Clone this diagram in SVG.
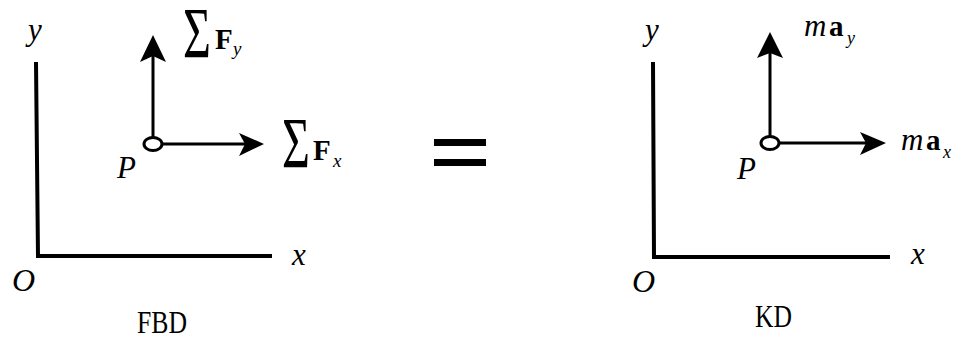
<svg xmlns="http://www.w3.org/2000/svg" width="960" height="339" viewBox="0 0 960 339">
<defs>
<style>
.ax{stroke:#000;stroke-width:4;fill:none}
.sh{stroke:#000;stroke-width:3;fill:none}
.pt{stroke:#000;stroke-width:3;fill:#fff}
.hd{fill:#000;stroke:none}
.t{font-family:'Liberation Serif','Times New Roman',Times,serif;fill:#000}
.i{font-style:italic}
.b{font-weight:bold}
</style>
</defs>
<g id="connectors">
<path class="ax" d="M36,62 L38,257 M36,256 L272,256"/>
<path class="ax" d="M653,62 L654,258 M652,257 L890,257"/>
<path class="sh" d="M153,137 L153,56 M162,144 L245,144"/>
<path class="hd" d="M153,35 L166,62 L153,56 L140,62 Z"/>
<path class="hd" d="M264,144 L239,133 L245,144 L239,156 Z"/>
<path class="sh" d="M770,136 L770,53 M779,143 L866,143"/>
<path class="hd" d="M770,32 L783,58 L770,53 L757,58 Z"/>
<path class="hd" d="M886,143 L860,132 L866,143 L860,155 Z"/>
</g>
<g id="fbd">
<text class="t i" x="28" y="40" font-size="31">y</text>
<text class="t i" x="292" y="265" font-size="31">x</text>
<text class="t i" x="12" y="291" font-size="32">O</text>
<text class="t" x="137" y="333" font-size="31" textLength="50" lengthAdjust="spacingAndGlyphs">FBD</text>
</g>
<g id="P1">
<ellipse class="pt" cx="153" cy="144" rx="9" ry="6.5"/>
<text class="t i" x="117" y="178" font-size="31">P</text>
</g>
<g id="sumFy">
<text class="t" transform="matrix(1,0,0,1.5,183,57)" font-size="48">Σ</text>
<text class="t b" x="215" y="49" font-size="29">F</text>
<text class="t i" x="233" y="55" font-size="19">y</text>
</g>
<g id="sumFx">
<text class="t" transform="matrix(1,0,0,1.5,282,167)" font-size="48">Σ</text>
<text class="t b" x="313" y="160" font-size="29">F</text>
<text class="t i" x="333" y="167" font-size="19">x</text>
</g>
<g id="equals">
<rect x="434" y="139" width="52" height="7" fill="#000"/>
<rect x="434" y="159" width="52" height="7" fill="#000"/>
</g>
<g id="kd">
<text class="t i" x="645" y="40" font-size="31">y</text>
<text class="t i" x="911" y="264" font-size="31">x</text>
<text class="t i" x="632" y="292" font-size="32">O</text>
<text class="t" x="755" y="327" font-size="31" textLength="37" lengthAdjust="spacingAndGlyphs">KD</text>
</g>
<g id="P2">
<ellipse class="pt" cx="770" cy="143" rx="9" ry="6.5"/>
<text class="t i" x="737" y="179" font-size="31">P</text>
</g>
<g id="may">
<text class="t i" x="804" y="36" font-size="31">m</text>
<text class="t b" x="829" y="36" font-size="29">a</text>
<text class="t i" x="847" y="44" font-size="18">y</text>
</g>
<g id="max">
<text class="t i" x="901" y="150" font-size="31">m</text>
<text class="t b" x="926" y="150" font-size="29">a</text>
<text class="t i" x="943" y="158" font-size="18">x</text>
</g>
</svg>
